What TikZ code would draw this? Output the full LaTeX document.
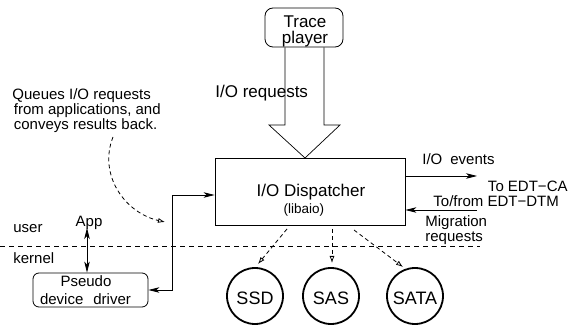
\documentclass[tikz,border=0pt]{standalone}
\usepackage{fontspec}
\setmainfont{Liberation Sans}
\usetikzlibrary{arrows.meta,calc}
\newcommand\fsA{\fontsize{15pt}{15pt}\selectfont}
\newcommand\fsB{\fontsize{17pt}{17pt}\selectfont}
\newcommand\fsC{\fontsize{13.5pt}{13.5pt}\selectfont}
\newcommand\fsD{\fontsize{18pt}{18pt}\selectfont}
\newcommand\fsT{\fontsize{17pt}{15.5pt}\selectfont}
\begin{document}
\begin{tikzpicture}[x=1pt,y=-1pt, line width=0.8pt,
  txt/.style={font=\fsA, inner sep=0pt},
  big/.style={font=\fsB, inner sep=0pt},
  rbox/.style={draw, rounded corners=7pt, inner sep=0pt},
  disk/.style={draw, circle, line width=1.8pt, minimum size=56pt, inner sep=0pt, font=\fsD, text height=18pt, text depth=0pt},
  farr/.style={-{Stealth[length=11pt,width=5.5pt,inset=3pt]}},
  darr/.style={{Stealth[length=11pt,width=5.5pt,inset=3pt]}-{Stealth[length=11pt,width=5.5pt,inset=3pt]}},
  oarr/.style={dash pattern=on 4pt off 3pt, -{Latex[open,length=7pt,width=5pt]}},
]
\useasboundingbox (0,0) rectangle (571,326);

% Trace player
\node[rbox, rounded corners=8pt, minimum width=78pt, minimum height=39pt] (trace) at (304,27.5) {};
\node[font=\fsT, inner sep=0pt, align=center, anchor=north] (tracelbl) at (305,15.5) {Trace\\player};

% big hollow arrow
\draw[line width=0.7pt] ($(trace.south)+(-19,0)$) -- (285,125) -- (269,125) -- (305,158) -- (340,125) -- (324,125) -- ($(trace.south)+(20,0)$);
\node[big, anchor=base west] (req) at (215,98) {I/O requests};

% Dispatcher
\node[draw, minimum width=190pt, minimum height=67pt, inner sep=0pt] (disp) at (310,191.5) {};
\node[big, anchor=base] at (311,197) {I/O Dispatcher};
\node[font=\fsC, inner sep=0pt, anchor=base] at (304,214) {(libaio)};

% right side
\coordinate (evt) at (477,176);
\coordinate (mig) at (477,210);
\draw[farr] (disp.east |- evt) -- (evt);
\draw[farr] (mig) -- (disp.east |- mig);
\node[txt, anchor=base west] (events) at (422,165) {I/O\hspace{8pt}events};
\node[txt, anchor=base east] (edtca) at (568,192) {To EDT−CA};
\node[txt, anchor=base west] (edtdtm) at (433,207) {To/from EDT−DTM};
\node[txt, anchor=north west, align=left] (migr) at (425,215) {Migration\\requests};

% user / kernel boundary
\coordinate (bl) at (0,246);
\coordinate (br) at (480,246);
\draw[dash pattern=on 5pt off 4pt] (bl) -- (br);
\node[txt, anchor=base west] (user) at (13,233) {user};
\node[txt, anchor=base west] (kernel) at (13,264) {kernel};
\node[txt, anchor=base] (app) at (89,226) {App};

% driver
\node[rbox, rounded corners=6pt, minimum width=115pt, minimum height=34pt] (drv) at (90.5,290) {};
\node[txt, anchor=base] at (86,287) {Pseudo};
\node[txt, anchor=base] at (85.5,304) {device\hspace{10pt}driver};

\coordinate (apptip) at (87,228);
\draw[darr] (apptip) -- (apptip |- drv.north);

\coordinate (jn) at (172,195);
\draw[darr] (drv.east) -| (jn) -- (disp.west |- jn);

% note
\node[txt, anchor=north west, align=left] (note) at (12,88) {Queues I/O requests\\\hspace{1.5pt}from applications, and\\\hspace{1.5pt}conveys results back.};
\coordinate (cs) at (113,137);
\coordinate (ce) at (165,222);
\draw[oarr] (cs) .. controls (98,175) and (125,213) .. (ce);

% disks
\node[disk] (ssd) at (255,296) {SSD};
\node[disk] (sas) at (331,296) {SAS};
\node[disk] (sata) at (415,296) {SATA};

\coordinate (d1) at (287,229); \coordinate (e1) at (258,264);
\coordinate (d2) at (332,229); \coordinate (e2) at (332,263);
\coordinate (d3) at (354,230); \coordinate (e3) at (403,267);
\draw[oarr] (d1) -- (e1);
\draw[oarr] (d2) -- (e2);
\draw[oarr] (d3) -- (e3);
\end{tikzpicture}
\end{document}
